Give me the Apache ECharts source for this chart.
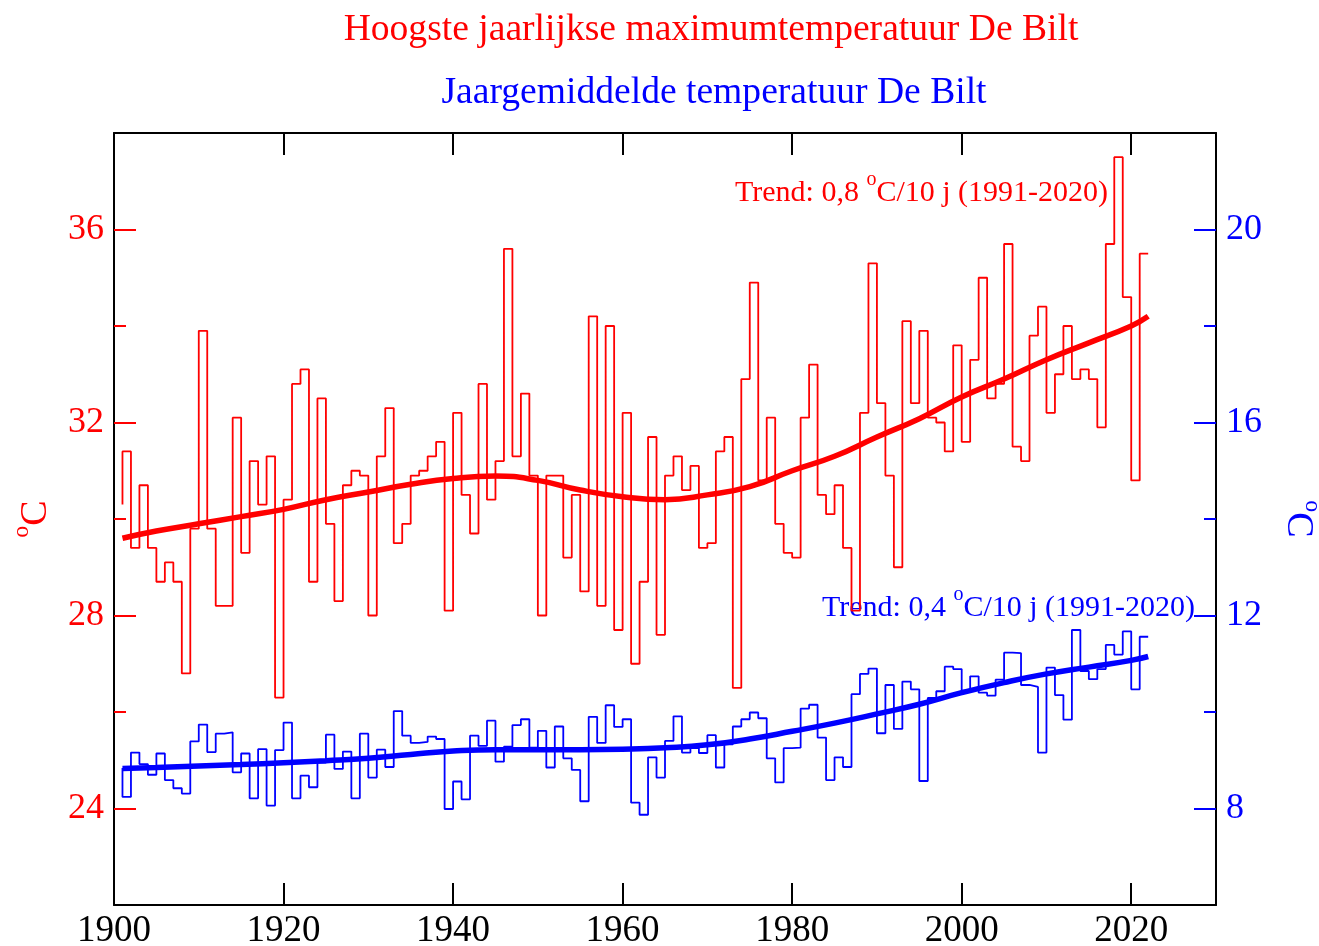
<!DOCTYPE html>
<html>
<head>
<meta charset="utf-8">
<title>Temperatuur De Bilt</title>
<script src="https://cdn.jsdelivr.net/npm/echarts@6/dist/echarts.min.js"></script>
<style>
  html, body { margin: 0; padding: 0; background: #fff; }
  #chart { width: 1319px; height: 946px; }
</style>
</head>
<body>
<div id="chart"></div>
<script>
// jaren 1901 t/m 2022
const firstYear = 1901;

// hoogste maximumtemperatuur per jaar (linker as)
const maxTemp = [
  30.3, 31.4, 29.4, 30.7, 29.4, 28.7, 29.1, 28.7, 26.8, 29.8,
  33.9, 29.8, 28.2, 28.2, 32.1, 29.3, 31.2, 30.3, 31.3, 26.3,
  30.4, 32.8, 33.1, 28.7, 32.5, 29.9, 28.3, 30.7, 31.0, 30.9,
  28.0, 31.3, 32.3, 29.5, 29.9, 30.9, 31.0, 31.3, 31.6, 28.1,
  32.2, 30.5, 29.7, 32.8, 30.4, 31.2, 35.6, 31.3, 32.6, 30.9,
  28.0, 30.9, 30.9, 29.2, 30.5, 28.5, 34.2, 28.2, 34.0, 27.7,
  32.2, 27.0, 28.7, 31.7, 27.6, 30.9, 31.3, 30.6, 31.1, 29.4,
  29.5, 31.4, 31.7, 26.5, 32.9, 34.9, 30.8, 32.1, 29.9, 29.3,
  29.2, 32.1, 33.2, 30.5, 30.1, 30.7, 29.4, 28.1, 32.2, 35.3,
  32.4, 30.9, 29.0, 34.1, 32.4, 33.9, 32.1, 32.0, 31.4, 33.6,
  31.6, 33.3, 35.0, 32.5, 32.8, 35.7, 31.5, 31.2, 33.8, 34.4,
  32.2, 33.0, 34.0, 32.9, 33.1, 32.9, 31.9, 35.7, 37.5, 34.6,
  30.8, 35.5
];

// jaargemiddelde temperatuur (rechter as)
const meanTemp = [
  8.84, 8.24, 9.16, 8.92, 8.70, 9.14, 8.59, 8.42, 8.31, 9.39,
  9.74, 9.17, 9.55, 9.58, 8.75, 9.14, 8.21, 9.23, 8.06, 9.21,
  9.78, 8.21, 8.68, 8.44, 8.95, 9.53, 8.82, 9.18, 8.21, 9.55,
  8.64, 9.22, 8.86, 10.02, 9.51, 9.36, 9.38, 9.49, 9.44, 7.99,
  8.56, 8.19, 9.51, 9.30, 9.82, 8.97, 9.28, 9.73, 9.85, 9.26,
  9.61, 8.85, 9.70, 9.04, 8.80, 8.15, 9.90, 9.36, 10.14, 9.69,
  9.85, 8.12, 7.87, 9.06, 8.64, 9.40, 9.91, 9.16, 9.25, 9.15,
  9.52, 8.85, 9.33, 9.70, 9.85, 9.99, 9.87, 9.04, 8.54, 9.25,
  9.26, 10.07, 10.15, 9.47, 8.59, 9.06, 8.86, 10.37, 10.79, 10.90,
  9.56, 10.56, 9.65, 10.63, 10.47, 8.57, 10.29, 10.43, 10.94, 10.89,
  10.44, 10.74, 10.40, 10.34, 10.67, 11.23, 11.22, 10.56, 10.52, 9.16,
  10.92, 10.35, 9.84, 11.70, 10.85, 10.68, 10.89, 11.39, 11.19, 11.67,
  10.47, 11.56
];

const trendYears = [1901, 1905, 1910, 1915, 1920, 1925, 1930, 1935, 1940, 1945,
  1950, 1955, 1960, 1965, 1970, 1975, 1980, 1985, 1990, 1995,
  2000, 2005, 2010, 2015, 2020, 2022];
const maxTrend = [29.6, 29.75, 29.9, 30.05, 30.2, 30.4, 30.56, 30.72, 30.84, 30.89,
  30.8, 30.6, 30.46, 30.4, 30.5, 30.67, 31.0, 31.3, 31.7, 32.08,
  32.53, 32.9, 33.3, 33.65, 34.0, 34.2];
const meanTrend = [8.83, 8.85, 8.88, 8.91, 8.95, 8.99, 9.04, 9.12, 9.19, 9.22,
  9.22, 9.22, 9.23, 9.26, 9.32, 9.44, 9.60, 9.77, 9.96, 10.16,
  10.40, 10.61, 10.79, 10.93, 11.07, 11.15];

// aslabels
const xLabels = [1900, 1920, 1940, 1960, 1980, 2000, 2020];
const leftLabels = [24, 28, 32, 36];
const leftMinor = [26, 30, 34];
const rightLabels = [8, 12, 16, 20];
const rightMinor = [10, 14, 18];

const RED = "#ff0000";
const BLUE = "#0000ff";
const FONT = "Liberation Serif";

function yearPairs(values) {
  return values.map((v, i) => [firstYear + i, v]);
}
function trendPairs(values) {
  return values.map((v, i) => [trendYears[i], v]);
}

// tekst met superscript "o" voor graden
function degreeRich(color, size, supSize, lineHeight) {
  return {
    a: { fontFamily: FONT, fontSize: size, color: color, lineHeight: lineHeight },
    s: { fontFamily: FONT, fontSize: supSize, color: color, lineHeight: supSize, verticalAlign: "top" },
  };
}

// y-as met lange (hoofd) of korte (tussen) streepjes
function makeYAxis(position, color, min, max, ticks, long, withLabels, name) {
  const axis = {
    type: "value",
    position: position,
    min: min,
    max: max,
    interval: 2,
    axisLine: { show: withLabels, lineStyle: { color: "#000", width: 2 } },
    axisTick: {
      show: true,
      inside: true,
      length: long ? 22 : 12,
      customValues: ticks,
      lineStyle: { color: color, width: 2 },
    },
    axisLabel: {
      show: withLabels,
      customValues: ticks,
      color: color,
      fontFamily: FONT,
      fontSize: 36,
      margin: 10,
    },
    splitLine: { show: false },
  };
  if (name) {
    axis.name = name;
    axis.nameLocation = "middle";
    axis.nameRotate = position === "left" ? 90 : -90;
    axis.nameGap = position === "left" ? 52 : 56;
    axis.nameTextStyle = { color: color, rich: degreeRich(color, 38, 24, 52) };
  }
  return axis;
}

const chart = echarts.init(document.getElementById("chart"));

const option = {
  animation: false,
  backgroundColor: "#fff",
  grid: { left: 114, right: 103, top: 133, bottom: 41, containLabel: false, outerBoundsMode: "none" },
  xAxis: [
    {
      type: "value",
      position: "bottom",
      min: 1900,
      max: 2030,
      interval: 20,
      axisLine: { lineStyle: { color: "#000", width: 2 } },
      axisTick: { inside: true, length: 22, customValues: xLabels, lineStyle: { color: "#000", width: 2 } },
      axisLabel: {
        customValues: xLabels,
        formatter: (v) => String(v),
        color: "#000",
        fontFamily: FONT,
        fontSize: 37,
        margin: 8,
      },
      splitLine: { show: false },
    },
    {
      type: "value",
      position: "top",
      min: 1900,
      max: 2030,
      interval: 20,
      axisLine: { lineStyle: { color: "#000", width: 2 } },
      axisTick: { inside: true, length: 22, customValues: xLabels, lineStyle: { color: "#000", width: 2 } },
      axisLabel: { show: false },
      splitLine: { show: false },
    },
  ],
  yAxis: [
    makeYAxis("left", RED, 22, 38, leftLabels, true, true, "{s|o}{a|C}"),
    makeYAxis("left", RED, 22, 38, leftMinor, false, false),
    makeYAxis("right", BLUE, 6, 22, rightLabels, true, true, "{s|o}{a|C}"),
    makeYAxis("right", BLUE, 6, 22, rightMinor, false, false),
  ],
  series: [
    {
      type: "line",
      step: "start",
      yAxisIndex: 0,
      data: yearPairs(maxTemp),
      symbol: "none",
      lineStyle: { color: RED, width: 1.8 },
    },
    {
      type: "line",
      smooth: true,
      yAxisIndex: 0,
      data: trendPairs(maxTrend),
      symbol: "none",
      lineStyle: { color: RED, width: 5.5 },
    },
    {
      type: "line",
      step: "start",
      yAxisIndex: 2,
      data: yearPairs(meanTemp),
      symbol: "none",
      lineStyle: { color: BLUE, width: 1.8 },
    },
    {
      type: "line",
      smooth: true,
      yAxisIndex: 2,
      data: trendPairs(meanTrend),
      symbol: "none",
      lineStyle: { color: BLUE, width: 5.5 },
    },
  ],
  graphic: [
    {
      type: "text",
      x: 711,
      y: 30,
      style: {
        text: "Hoogste jaarlijkse maximumtemperatuur De Bilt",
        fill: RED,
        font: '37.6px "Liberation Serif"',
        align: "center",
        verticalAlign: "middle",
      },
    },
    {
      type: "text",
      x: 714,
      y: 93,
      style: {
        text: "Jaargemiddelde temperatuur De Bilt",
        fill: BLUE,
        font: '37.6px "Liberation Serif"',
        align: "center",
        verticalAlign: "middle",
      },
    },
    {
      type: "text",
      x: 735,
      y: 193,
      style: {
        text: "{a|Trend: 0,8 }{s|o}{a|C/10 j (1991-2020)}",
        verticalAlign: "middle",
        fill: RED,
        rich: degreeRich(RED, 30, 20, 46),
      },
    },
    {
      type: "text",
      x: 822,
      y: 608,
      style: {
        text: "{a|Trend: 0,4 }{s|o}{a|C/10 j (1991-2020)}",
        verticalAlign: "middle",
        fill: BLUE,
        rich: degreeRich(BLUE, 30, 20, 46),
      },
    },
  ],
};

chart.setOption(option);
window.addEventListener("resize", () => chart.resize());
</script>
</body>
</html>
